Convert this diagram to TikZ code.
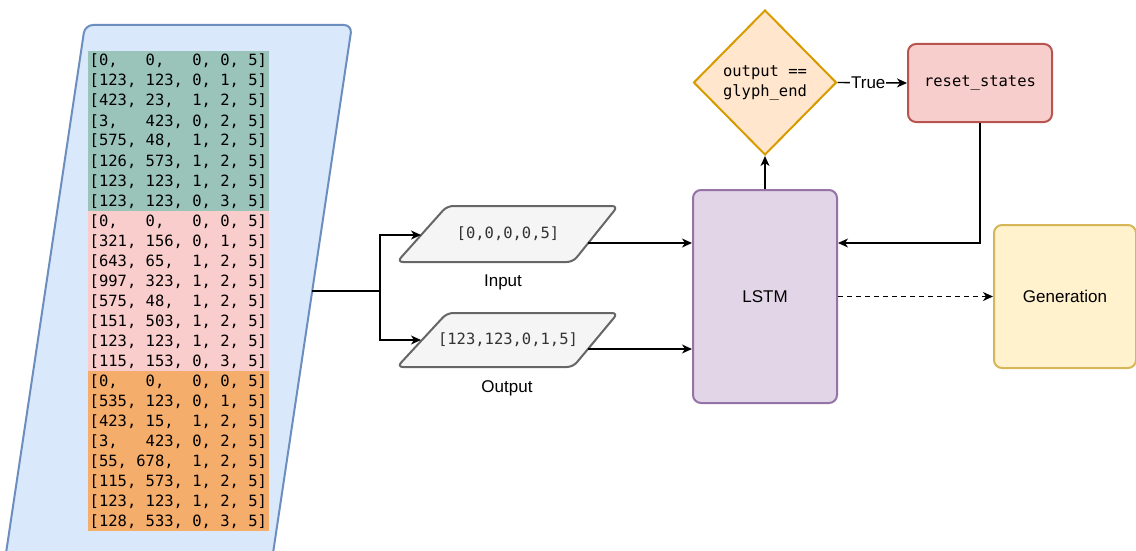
\documentclass[tikz,border=0pt]{standalone}
\usepackage{fontspec}
\setmainfont{Liberation Sans}
\setmonofont{DejaVu Sans Mono}
\usetikzlibrary{arrows.meta,shapes.geometric,calc}

\definecolor{dataFill}{HTML}{DAE8FC}
\definecolor{dataLine}{HTML}{6C8EBF}
\definecolor{bandA}{HTML}{9AC4B9}
\definecolor{bandB}{HTML}{F8CDCC}
\definecolor{bandC}{HTML}{F4AD6B}
\definecolor{ioFill}{HTML}{F5F5F5}
\definecolor{ioLine}{HTML}{666666}
\definecolor{ioText}{HTML}{333333}
\definecolor{lstmFill}{HTML}{E1D5E7}
\definecolor{lstmLine}{HTML}{9673A6}
\definecolor{decFill}{HTML}{FFE6CC}
\definecolor{decLine}{HTML}{D79B00}
\definecolor{resetFill}{HTML}{F8CECC}
\definecolor{resetLine}{HTML}{B85450}
\definecolor{genFill}{HTML}{FFF2CC}
\definecolor{genLine}{HTML}{D6B656}

\tikzset{
  monotext/.style={font=\ttfamily\fontsize{15.5}{20}\selectfont},
  sanstext/.style={font=\fontsize{17}{20}\selectfont},
  arr/.style={draw=black, line width=1.4pt, -{Stealth[length=10pt,width=9pt,inset=3pt]}},
  wire/.style={draw=black, line width=1.4pt},
  box/.style={rectangle, rounded corners=8pt, line width=2pt, inner sep=0pt},
  iobox/.style={fill=ioFill, draw=ioLine, line width=2pt, rounded corners=6pt},
  rowtext/.style={monotext, anchor=base west, inner sep=0pt},
}

\begin{document}
\begin{tikzpicture}[x=1pt,y=-1pt]
\useasboundingbox (0,0) rectangle (1136,551);

% dataset sheet (runs off the lower edge)
\begin{scope}
  \clip (0,0) rectangle (1136,551);
  \draw[fill=dataFill, draw=dataLine, line width=2pt, rounded corners=8pt]
    (85,25) -- (352,25) -- (269,580) -- (2,580) -- cycle;
\end{scope}

% three coloured bands of sequences
\fill[bandA] (88,51) rectangle (269,211);
\fill[bandB] (88,211) rectangle (269,371);
\fill[bandC] (88,371) rectangle (269,531);

\foreach \r [count=\i from 0] in {
  {[0,~~~0,~~~0, 0, 5]},
  {[123, 123, 0, 1, 5]},
  {[423, 23,~~1, 2, 5]},
  {[3,~~~423, 0, 2, 5]},
  {[575, 48,~~1, 2, 5]},
  {[126, 573, 1, 2, 5]},
  {[123, 123, 1, 2, 5]},
  {[123, 123, 0, 3, 5]},
  {[0,~~~0,~~~0, 0, 5]},
  {[321, 156, 0, 1, 5]},
  {[643, 65,~~1, 2, 5]},
  {[997, 323, 1, 2, 5]},
  {[575, 48,~~1, 2, 5]},
  {[151, 503, 1, 2, 5]},
  {[123, 123, 1, 2, 5]},
  {[115, 153, 0, 3, 5]},
  {[0,~~~0,~~~0, 0, 5]},
  {[535, 123, 0, 1, 5]},
  {[423, 15,~~1, 2, 5]},
  {[3,~~~423, 0, 2, 5]},
  {[55, 678,~~1, 2, 5]},
  {[115, 573, 1, 2, 5]},
  {[123, 123, 1, 2, 5]},
  {[128, 533, 0, 3, 5]}}
{
  \node[rowtext] (row\i) at (89.5, 66+20*\i) {\r};
}

\coordinate (src) at (312.4,291);
\coordinate (split) at (380,291);

% input / output samples
\draw[iobox] (447,206) -- (618,206) -- (573,262) -- (397,262) -- cycle;
\draw[iobox] (447,313) -- (618,313) -- (573,367) -- (397,367) -- cycle;
\node[monotext, text=ioText] (inval) at (508,234) {[0,0,0,0,5]};
\node[monotext, text=ioText] (outval) at (508,340) {[123,123,0,1,5]};
\node[sanstext] (inlbl) at (503,282) {Input};
\node[sanstext] (outlbl) at (507,388) {Output};
\coordinate (inL) at (421,235);
\coordinate (outL) at (421,340);
\coordinate (inR) at (588,243);
\coordinate (outR) at (588,349);

% processing blocks
\node[box, fill=lstmFill, draw=lstmLine, minimum width=144pt, minimum height=213pt, sanstext]
  (lstm) at (765,296.5) {LSTM};
\node[diamond, fill=decFill, draw=decLine, line width=2pt, inner sep=0pt,
  minimum width=143pt, minimum height=145pt, monotext, align=center]
  (dec) at (765,82.5) {output ==\\glyph\_end};
\node[box, fill=resetFill, draw=resetLine, minimum width=144pt, minimum height=78pt, monotext]
  (reset) at (980,83) {reset\_states};
\node[box, fill=genFill, draw=genLine, minimum width=142pt, minimum height=143pt, sanstext]
  (gen) at (1065,296.5) {Generation};

% connectors
\draw[wire] (src) -- (split);
\draw[arr] (split) |- (inL);
\draw[arr] (split) |- (outL);
\draw[arr] (inR) -- (inR -| lstm.west);
\draw[arr] (outR) -- (outR -| lstm.west);
\draw[arr] (lstm.north) -- (dec.south);
\draw[arr] (dec.east) -- node[sanstext, fill=white, inner sep=1pt, xshift=-4pt] {True} (reset.west);
\draw[arr] (reset.south) |- (inR -| lstm.east);
\draw[arr, dashed, dash pattern=on 5pt off 4pt] (lstm.east) -- (gen.west);
\end{tikzpicture}
\end{document}
